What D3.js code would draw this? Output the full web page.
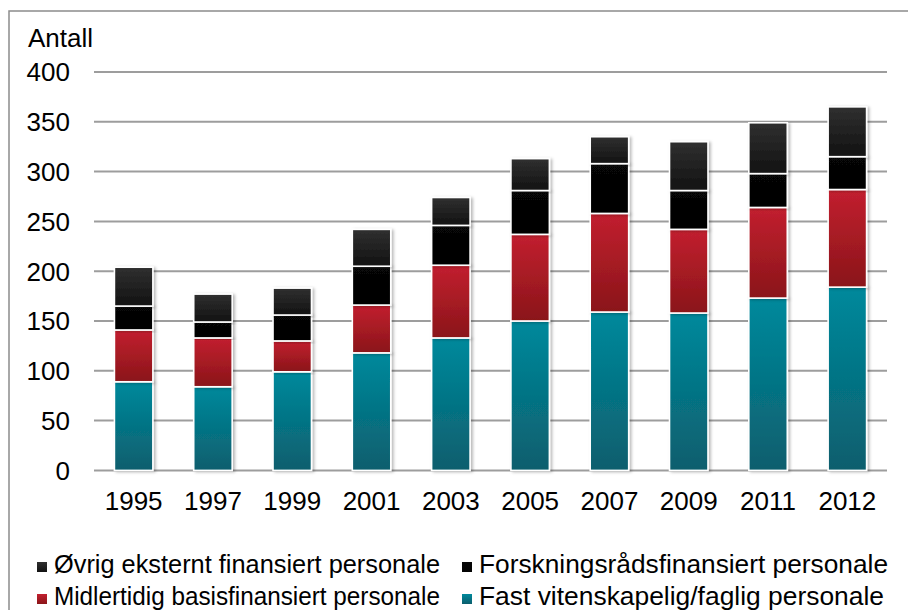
<!DOCTYPE html>
<html lang="no">
<head>
<meta charset="UTF-8">
<title>Antall personale</title>
<script src="https://d3js.org/d3.v7.min.js"></script>
<style>
  body { margin: 0; background: #fff; }
  svg { display: block; font-family: "Liberation Sans", Arial, sans-serif; }
</style>
</head>
<body>
<svg id="chart" width="908" height="610"></svg>
<script>
// data
var years = ["1995", "1997", "1999", "2001", "2003", "2005", "2007", "2009", "2011", "2012"];
var fast      = [89, 84, 99, 118, 133, 150, 159, 158, 173, 184];
var midlert   = [52, 49, 31, 48, 73, 87, 99, 84, 91, 98];
var forskning = [24, 16, 26, 39, 40, 44, 50, 39, 34, 33];
var ovrig     = [39, 28, 27, 37, 28, 32, 27, 49, 51, 50];
var yTicks = [0, 50, 100, 150, 200, 250, 300, 350, 400];

var seriesNames = ["Fast vitenskapelig/faglig personale", "Midlertidig basisfinansiert personale",
                   "Forskningsrådsfinansiert personale", "Øvrig eksternt finansiert personale"];
var keys = ["fast", "midlert", "forskning", "ovrig"];
// gradient top/bottom per series
var grad = {
  fast:      ["#00899c", "#0b5e6d"],
  midlert:   ["#c2202f", "#8a1519"],
  forskning: ["#070707", "#030303"],
  ovrig:     ["#303030", "#121212"]
};

var rows = years.map(function(y, i) {
  return { year: y, fast: fast[i], midlert: midlert[i], forskning: forskning[i], ovrig: ovrig[i] };
});

var svg = d3.select("#chart");

var x = d3.scaleBand().domain(years).range([94, 887]).paddingInner(0.515).paddingOuter(0.2575);
var y = d3.scaleLinear().domain([0, 400]).range([470.4, 72]);

var defs = svg.append("defs");
keys.forEach(function(k) {
  var g = defs.append("linearGradient").attr("id", "g-" + k)
    .attr("x1", 0).attr("y1", 0).attr("x2", 0).attr("y2", 1);
  g.append("stop").attr("offset", "0%").attr("stop-color", grad[k][0]);
  g.append("stop").attr("offset", "100%").attr("stop-color", grad[k][1]);
});
var f = defs.append("filter").attr("id", "shadow")
  .attr("x", "-20%").attr("y", "-10%").attr("width", "150%").attr("height", "120%");
f.append("feDropShadow").attr("dx", 2).attr("dy", 1).attr("stdDeviation", 1.6)
  .attr("flood-color", "#000").attr("flood-opacity", 0.28);

// outer frame
svg.append("rect").attr("x", 9).attr("y", 11).attr("width", 930).attr("height", 640)
  .attr("fill", "none").attr("stroke", "#8c8c8c").attr("stroke-width", 1.5);

// gridlines
svg.append("g").selectAll("line").data(yTicks).enter().append("line")
  .attr("x1", 94).attr("x2", 887)
  .attr("y1", function(d) { return y(d); }).attr("y2", function(d) { return y(d); })
  .attr("stroke", "#9d9d9d").attr("stroke-width", 2);

// y tick labels
svg.append("g").selectAll("text").data(yTicks).enter().append("text")
  .attr("x", 70).attr("y", function(d) { return y(d); }).attr("dy", "0.36em")
  .attr("text-anchor", "end").attr("font-size", 26).attr("fill", "#000")
  .text(function(d) { return d; });

svg.append("text").attr("x", 28).attr("y", 47).attr("font-size", 26).text("Antall");

// stacked bars
var stack = d3.stack().keys(keys)(rows);
var layers = svg.append("g").selectAll("g").data(stack).enter().append("g")
  .attr("fill", function(d) { return "url(#g-" + d.key + ")"; });

layers.selectAll("rect").data(function(d) { return d; }).enter().append("rect")
  .attr("x", function(d) { return x(d.data.year); })
  .attr("width", x.bandwidth())
  .attr("y", function(d) { return y(d[1]); })
  .attr("height", function(d) { return y(d[0]) - y(d[1]); })
  .attr("stroke", "#fff").attr("stroke-width", 1.6)
  .attr("filter", "url(#shadow)");

// x labels
svg.append("g").selectAll("text").data(years).enter().append("text")
  .attr("x", function(d) { return x(d) + x.bandwidth() / 2; })
  .attr("y", 510).attr("text-anchor", "middle").attr("font-size", 26)
  .text(function(d) { return d; });

// legend
var legendItems = [
  { key: "ovrig", label: seriesNames[3], x: 37, y: 573, w: 386 },
  { key: "forskning", label: seriesNames[2], x: 462, y: 573, w: 409 },
  { key: "midlert", label: seriesNames[1], x: 37, y: 605, w: 386 },
  { key: "fast", label: seriesNames[0], x: 462, y: 605, w: 405 }
];
var lg = svg.append("g").selectAll("g").data(legendItems).enter().append("g");
lg.append("rect")
  .attr("x", function(d) { return d.x; }).attr("y", function(d) { return d.y - 11; })
  .attr("width", 10).attr("height", 10)
  .attr("fill", function(d) { return "url(#g-" + d.key + ")"; });
lg.append("text")
  .attr("x", function(d) { return d.x + 17; }).attr("y", function(d) { return d.y; })
  .attr("font-size", 25)
  .attr("textLength", function(d) { return d.w; }).attr("lengthAdjust", "spacingAndGlyphs")
  .text(function(d) { return d.label; });
</script>
</body>
</html>
